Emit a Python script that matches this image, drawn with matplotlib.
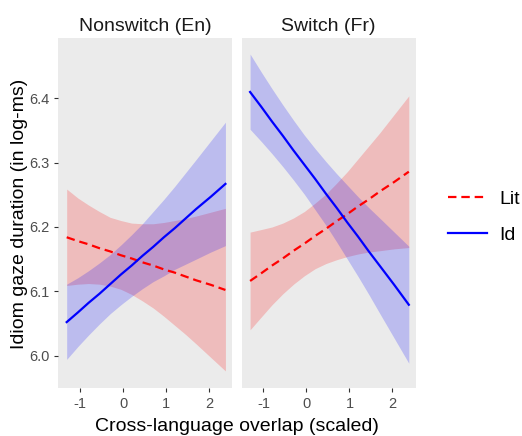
import matplotlib
matplotlib.use("Agg")
import matplotlib.pyplot as plt
from matplotlib.lines import Line2D

plt.rcParams['font.family'] = ['Liberation Sans', 'DejaVu Sans']

overlap = [-1.31, -1.05, -0.8, -0.55, -0.3, -0.05, 0.2, 0.45, 0.7, 0.95, 1.2, 1.45, 1.7, 2.04, 2.38]

panels = ["Nonswitch (En)", "Switch (Fr)"]

# Nonswitch (En)
ns_lit_fit = [6.184, 6.178, 6.173, 6.167, 6.162, 6.156, 6.151, 6.145, 6.140, 6.134, 6.129, 6.123, 6.117, 6.110, 6.102]
ns_lit_hi = [6.259, 6.245, 6.234, 6.224, 6.215, 6.210, 6.206, 6.205, 6.205, 6.207, 6.210, 6.213, 6.217, 6.223, 6.229]
ns_lit_lo = [6.109, 6.111, 6.112, 6.111, 6.108, 6.103, 6.095, 6.085, 6.074, 6.061, 6.047, 6.033, 6.018, 5.997, 5.976]
ns_id_fit = [6.052, 6.067, 6.082, 6.096, 6.111, 6.126, 6.140, 6.155, 6.169, 6.184, 6.198, 6.213, 6.228, 6.247, 6.267]
ns_id_hi = [6.111, 6.121, 6.132, 6.144, 6.157, 6.172, 6.188, 6.205, 6.224, 6.243, 6.263, 6.284, 6.305, 6.334, 6.363]
ns_id_lo = [5.994, 6.014, 6.032, 6.049, 6.065, 6.079, 6.092, 6.104, 6.115, 6.124, 6.134, 6.142, 6.150, 6.161, 6.171]

# Switch (Fr)
sw_lit_fit = [6.116, 6.128, 6.140, 6.151, 6.163, 6.174, 6.186, 6.197, 6.209, 6.220, 6.232, 6.243, 6.255, 6.270, 6.286]
sw_lit_hi = [6.192, 6.196, 6.200, 6.206, 6.214, 6.224, 6.237, 6.251, 6.268, 6.286, 6.306, 6.326, 6.346, 6.375, 6.404]
sw_lit_lo = [6.040, 6.060, 6.079, 6.096, 6.111, 6.124, 6.135, 6.143, 6.149, 6.154, 6.158, 6.161, 6.163, 6.166, 6.168]
sw_id_fit = [6.410, 6.387, 6.364, 6.342, 6.319, 6.297, 6.275, 6.252, 6.230, 6.207, 6.185, 6.162, 6.140, 6.110, 6.079]
sw_id_hi = [6.469, 6.441, 6.415, 6.390, 6.366, 6.343, 6.322, 6.302, 6.283, 6.265, 6.247, 6.230, 6.214, 6.192, 6.170]
sw_id_lo = [6.352, 6.333, 6.314, 6.294, 6.273, 6.251, 6.227, 6.203, 6.177, 6.150, 6.123, 6.095, 6.066, 6.027, 5.988]

xticks = [-1, 0, 1, 2]
yticks = [6.0, 6.1, 6.2, 6.3, 6.4]

data = [
    (ns_lit_fit, ns_lit_lo, ns_lit_hi, ns_id_fit, ns_id_lo, ns_id_hi),
    (sw_lit_fit, sw_lit_lo, sw_lit_hi, sw_id_fit, sw_id_lo, sw_id_hi),
]

W, H = 522, 436
fig = plt.figure(figsize=(W / 100, H / 100), dpi=100)

lefts = [58.3, 241.7]
pw = 174.0
top, bottom = 38.0, 388.3
dash = (3.8, 2.2)

for i, (title, d) in enumerate(zip(panels, data)):
    lit_fit, lit_lo, lit_hi, id_fit, id_lo, id_hi = d
    ax = fig.add_axes([lefts[i] / W, (H - bottom) / H, pw / W, (bottom - top) / H])
    ax.set_facecolor("#EBEBEB")
    for s in ax.spines.values():
        s.set_visible(False)
    ax.fill_between(overlap, lit_lo, lit_hi, color="red", alpha=0.2, lw=0)
    ax.fill_between(overlap, id_lo, id_hi, color="blue", alpha=0.2, lw=0)
    ax.plot(overlap, lit_fit, color="red", lw=1.6, ls=(0, dash))
    ax.plot(overlap, id_fit, color="blue", lw=1.6)
    ax.set_xlim(-1.505, 2.54)
    ax.set_ylim(5.949, 6.494)
    ax.set_xticks(xticks)
    ax.set_xticklabels([str(t) for t in xticks])
    ax.tick_params(axis="both", length=3.0, width=0.8, color="#333333",
                   labelcolor="#4D4D4D", labelsize=10.5, pad=3)
    if i == 0:
        ax.set_yticks(yticks)
        ax.set_yticklabels(["%.1f" % t for t in yticks])
    else:
        ax.set_yticks([])
    fig.text((lefts[i] + pw / 2) / W, (H - 30.7) / H, title, ha="center",
             va="baseline", fontsize=14, color="#1A1A1A")

fig.text((lefts[0] + lefts[1] + pw) / 2 / W, 5.5 / H, "Cross-language overlap (scaled)",
         ha="center", va="baseline", fontsize=14)
fig.text(20 / W, (H - 214) / H, "Idiom gaze duration (in log-ms)", rotation=90,
         ha="center", va="center", fontsize=14)

handles = [Line2D([], [], color="red", lw=1.6, ls=(0, dash)),
           Line2D([], [], color="blue", lw=1.6)]
fig.legend(handles, ["Lit", "Id"], loc="center left", bbox_to_anchor=(440 / W, (H - 217) / H),
           frameon=False, fontsize=14, handlelength=2.0, handletextpad=0.65,
           labelspacing=0.95, borderaxespad=0)

fig.savefig("out.png", dpi=100)
